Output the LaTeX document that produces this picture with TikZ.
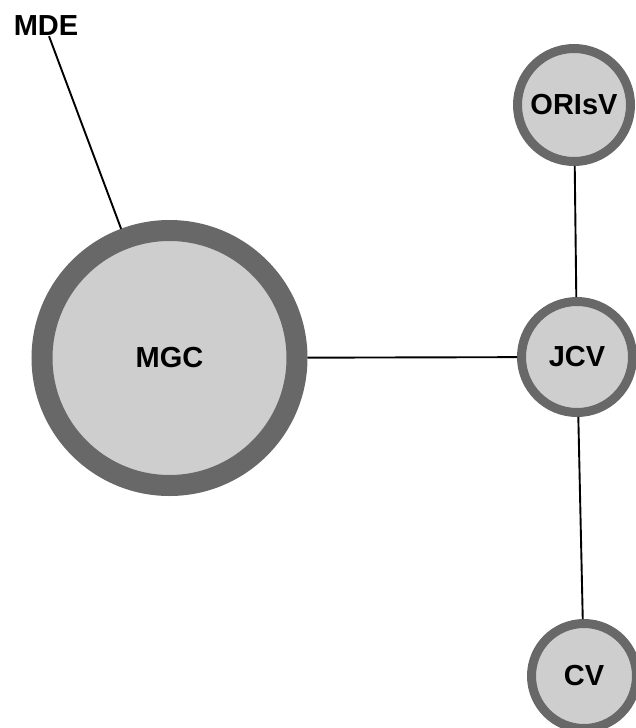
\documentclass[tikz,border=0pt]{standalone}
\usepackage{fontspec}
\setmainfont{Liberation Sans}
\definecolor{ringgray}{RGB}{104,104,104}
\definecolor{fillgray}{RGB}{206,206,206}
\begin{document}
\begin{tikzpicture}[x=1pt,y=-1pt,
  labelfont/.style={font=\fontsize{29}{29}\selectfont\bfseries},
  vertex/.style={circle, draw=ringgray, fill=fillgray, inner sep=0pt, labelfont},
  link/.style={draw=black, line width=1.9pt}]
\useasboundingbox (0,0) rectangle (636,728);
% nodes
\node[vertex, line width=21pt, minimum size=255pt] (MGC) at (169.5,358) {MGC};
\node[vertex, line width=9pt, minimum size=111pt] (JCV) at (577,357) {JCV};
\node[vertex, line width=9pt, minimum size=113pt] (ORIsV) at (574,105) {ORIsV};
\node[vertex, line width=9pt, minimum size=105pt] (CV) at (584,676) {CV};
\node[labelfont, inner sep=0pt] (MDE) at (46,26) {MDE};
% connectors
\draw[link] ([xshift=3pt]MDE.south) -- (MGC);
\draw[link] (MGC) -- (JCV);
\draw[link] (ORIsV) -- (JCV);
\draw[link] (JCV) -- (CV);
\end{tikzpicture}
\end{document}
